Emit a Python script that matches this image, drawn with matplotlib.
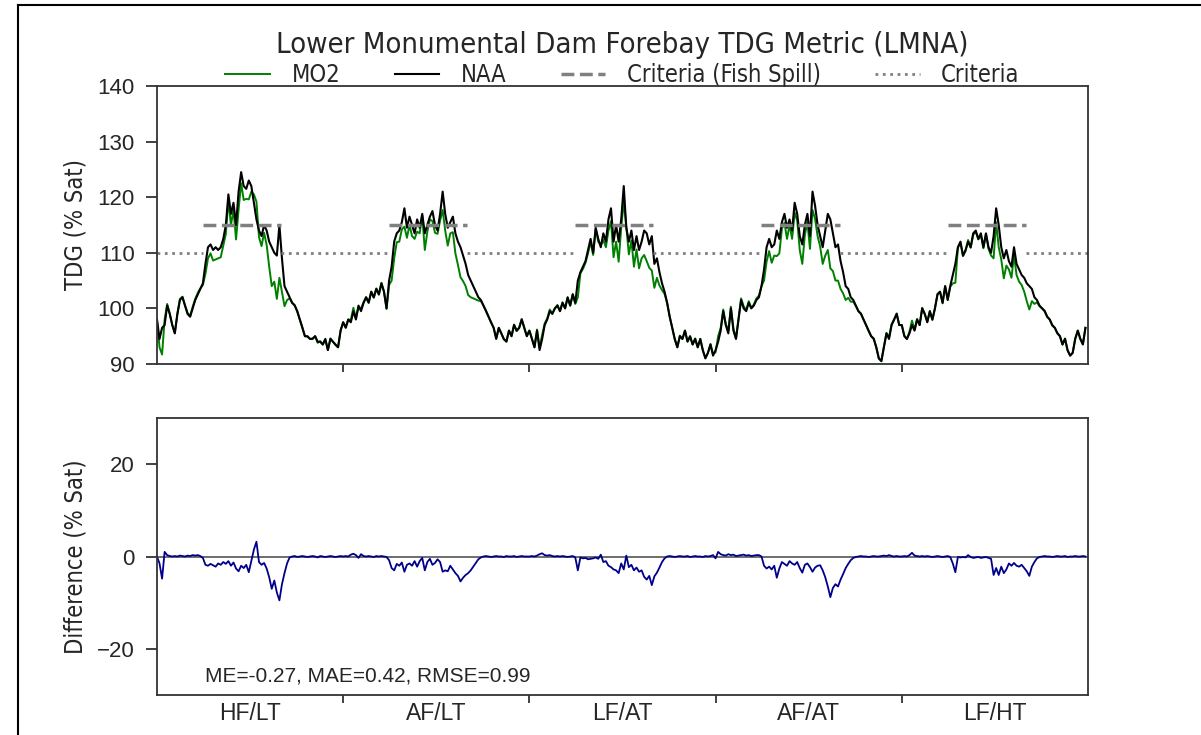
import numpy as np
import matplotlib
matplotlib.use("Agg")
import matplotlib.pyplot as plt
from matplotlib.font_manager import FontProperties
from matplotlib.lines import Line2D

# scenario labels, one per simulated year
years = ["HF/LT", "AF/LT", "LF/AT", "AF/AT", "LF/HT"]

# NAA forebay TDG (% Sat), one value every 5 days, 73 per year
naa_y1 = [98, 94.5, 96.5, 97, 100.5, 99, 97, 95.5, 99, 101.5,
          102, 100.5, 99, 98.5, 100, 101.5, 102.5, 103.5, 104.5, 108,
          111, 111.5, 110.5, 111, 110.5, 111, 112.5, 115, 120.5, 117,
          119, 115, 121, 124.5, 122, 121.5, 123, 122, 119, 116,
          114, 113, 115, 114, 112, 111, 110, 109.5, 115, 109,
          104, 103, 102, 101, 100.5, 99.5, 98, 96.5, 95, 95,
          94.5, 94.5, 95, 94, 94, 93.5, 94.5, 92.5, 94.5, 94,
          93.5, 93, 96]
naa_y2 = [97.5, 96.5, 98, 97.5, 99.5, 98, 100.5, 99.5, 101, 102,
          101, 103, 102, 103.5, 102.5, 104.5, 103, 100, 105, 107.5,
          112, 113.5, 114, 115.5, 118, 114.5, 116.5, 115, 113.5, 116,
          114.5, 117, 113.5, 115, 116.5, 117.5, 115, 114, 117, 121,
          117, 114.5, 115.5, 116.5, 113.5, 112, 111, 109.5, 108, 106,
          105, 104, 103, 102, 101.5, 100.5, 99.5, 98.5, 97.5, 96.5,
          94.5, 96.5, 95.5, 94.5, 94, 96, 95, 97, 96, 96.5,
          98, 96.5, 95]
naa_y3 = [96, 94.5, 93, 96, 92.5, 94.5, 97, 98, 99.5, 99,
          100, 100.5, 99.5, 101, 100, 102, 100.5, 102.5, 101, 105,
          106.5, 107.5, 108.5, 110.5, 112.5, 110, 114.5, 112.5, 111, 113.5,
          112, 116, 118, 112, 115, 112, 116, 122, 114.5, 112,
          114, 110.5, 113, 110.5, 112, 114, 113.5, 111.5, 113, 108,
          109, 106.5, 104.5, 103, 101, 98.5, 96.5, 94.5, 93, 95,
          94.5, 96, 94, 95, 93.5, 94.5, 93, 94.5, 92.5, 91,
          92, 93.5, 91.5]
naa_y4 = [92.5, 94, 96, 99.5, 97, 95.5, 100, 96, 94.5, 98,
          101.5, 100, 99.5, 101, 100, 100.5, 101.5, 102, 104, 107,
          111, 112.5, 111, 111.5, 114, 112.5, 115.5, 117, 114.5, 116,
          114, 119, 117, 113, 111.5, 115, 117, 113, 121, 118.5,
          115, 113, 111, 114, 117, 116, 113.5, 111, 111.5, 108.5,
          106.5, 104, 103.5, 102, 101.5, 100.5, 99.5, 99, 98, 97,
          96, 95, 94.5, 93, 91, 90.5, 93, 95.5, 94.5, 97,
          98, 99, 97]
naa_y5 = [97, 95, 94.5, 95.5, 97, 96, 98, 97, 100, 99,
          97.5, 99.5, 98, 100, 102.5, 103, 101, 104, 101.5, 104,
          106, 108, 111, 112, 109.5, 110.5, 112, 111, 113.5, 114,
          112.5, 113.5, 111, 113.5, 111, 110, 113, 118, 115, 111,
          109, 110.5, 108.5, 107.5, 111, 108, 107, 106, 105.5, 104.5,
          104, 103.5, 102, 101.5, 100.5, 100, 99.5, 98.5, 98, 97,
          96.5, 95.5, 95, 93.5, 94.5, 92.5, 91.5, 92, 94.5, 96,
          94.5, 93.5, 96.5]

# MO2 minus NAA (% Sat), same sampling
diff_y1 = [0, -1.5, -4.8, 1.0, 0.3, 0.1, 0.0, 0.1, 0.0, 0.2,
           0.1, 0.0, 0.2, 0.1, 0.3, 0.2, 0.3, 0.1, -0.3, -1.8,
           -2.0, -1.6, -1.9, -2.2, -1.5, -1.8, -1.2, -1.6, -1.0, -2.0,
           -1.3, -2.6, -3.2, -2.0, -2.5, -1.8, -3.4, -1.0, 1.5, 3.2,
           -1.2, -1.8, -1.4, -2.6, -4.5, -7.0, -5.2, -7.8, -9.5, -6.0,
           -3.6, -1.5, -0.2, 0.0, 0.1, -0.1, 0.0, 0.1, 0.0, -0.1,
           0.0, 0.1, 0.0, -0.2, 0.1, 0.0, -0.1, 0.0, 0.1, 0.0,
           -0.1, 0.0, 0.1]
diff_y2 = [0.0, 0.1, 0.0, 0.4, 0.6, 0.3, -0.3, 0.5, 0.1, 0.0,
           0.1, 0.0, -0.1, 0.1, 0.0, 0.1, 0.0, -0.1, -0.8, -2.5,
           -3.0, -1.6, -2.0, -1.3, -3.3, -1.8, -1.5, -2.0, -1.0, -2.2,
           -1.0, -0.3, -3.0, -1.2, -0.5, -1.8, -1.4, -0.6, -1.2, -3.3,
           -3.0, -3.2, -2.0, -2.8, -3.6, -4.2, -5.4, -4.6, -4.0, -3.6,
           -3.0, -2.2, -1.4, -0.6, -0.2, 0.0, 0.1, 0.0, -0.1, 0.0,
           0.1, 0.0, 0.0, -0.1, 0.1, 0.0, 0.0, 0.1, -0.1, 0.0,
           0.1, 0.0, 0.0]
diff_y3 = [0.0, 0.1, 0.0, 0.2, 0.5, 0.7, 0.3, 0.2, 0.3, 0.1,
           0.0, 0.1, 0.0, 0.1, 0.0, -0.1, 0.0, 0.1, -0.2, -3.0,
           -0.2, -0.4, -0.3, -0.6, -0.5, -0.4, -0.2, -0.5, 0.4, -1.2,
           -1.0, -2.0, -2.3, -2.8, -3.0, -3.6, -1.5, -2.8, 0.2, -2.3,
           -1.8, -3.0, -2.4, -3.3, -3.0, -4.4, -5.0, -4.2, -6.2, -4.3,
           -3.5, -2.4, -1.2, -0.4, 0.0, 0.1, 0.0, -0.1, 0.0, 0.1,
           0.0, 0.0, 0.1, -0.1, 0.0, 0.1, 0.0, 0.0, -0.1, 0.1,
           0.0, 0.1, 0.3]
diff_y4 = [-0.4, 1.0, 0.5, 0.3, 0.2, 0.5, 0.3, 0.4, 0.1, 0.2,
           0.3, 0.4, 0.2, 0.3, 0.1, 0.2, 0.3, 0.3, 0.0, -2.0,
           -2.6, -2.2, -2.8, -2.0, -4.6, -2.6, -1.2, -1.6, -2.0, -1.0,
           -1.5, -1.8, -1.2, -2.5, -3.5, -1.8, -1.5, -2.3, -3.3, -2.4,
           -2.0, -1.9, -3.0, -4.5, -6.5, -8.8, -6.8, -6.0, -6.5, -5.0,
           -3.8, -2.5, -1.6, -0.8, -0.3, -0.1, 0.0, 0.1, 0.0, 0.0,
           -0.1, 0.0, 0.1, 0.0, 0.0, 0.1, 0.2, 0.1, 0.3, 0.1,
           0.0, 0.1, 0.0]
diff_y5 = [0.0, 0.1, 0.0, 0.3, 0.8, 0.2, 0.1, 0.0, 0.1, 0.0,
           0.1, 0.0, -0.1, 0.0, 0.1, 0.0, -0.1, 0.0, 0.1, -0.1,
           -1.5, -3.4, -0.1, -0.2, -0.1, -0.2, 0.3, -0.1, -0.3, -0.2,
           -0.1, -0.3, -0.2, -0.1, -0.3, -0.5, -4.0, -2.5, -4.0, -2.2,
           -3.6, -2.8, -1.5, -2.0, -1.4, -2.0, -2.2, -1.8, -2.5, -3.2,
           -4.2, -2.2, -1.2, -0.4, -0.1, 0.0, 0.1, 0.0, 0.0, -0.1,
           0.0, 0.1, 0.0, 0.0, 0.1, -0.1, 0.0, 0.0, 0.1, 0.0,
           0.0, 0.1, 0.0]

# criteria: 115 % during fish spill (Apr 1 - Aug 31), 110 % otherwise
crit_fish = 115
crit_other = 110
spill_start = 90 / 365
spill_end = 243 / 365

stats_text = "ME=-0.27, MAE=0.42, RMSE=0.99"


def main():
    naa = np.array(naa_y1 + naa_y2 + naa_y3 + naa_y4 + naa_y5)
    diff = np.array(diff_y1 + diff_y2 + diff_y3 + diff_y4 + diff_y5)
    mo2 = naa + diff
    n_year = len(naa_y1)
    x = np.arange(len(naa)) / n_year   # time in years

    plt.rcParams["font.family"] = "Liberation Sans"
    dark = "#262626"
    # condensed face for title, legend and axis labels
    cond = dict(family="DejaVu Sans", stretch="condensed")

    fig = plt.figure(figsize=(12.01, 7.35), dpi=100)
    ax1 = fig.add_axes([0.1307, 0.5048, 0.7752, 0.3782])
    ax2 = fig.add_axes([0.1307, 0.0544, 0.7752, 0.3769])

    # top panel: TDG
    ax1.plot(x, mo2, color="green", lw=1.4, label="MO2")
    ax1.plot(x, naa, color="black", lw=1.5, label="NAA")

    n = len(years)
    starts = [k + spill_start for k in range(n)]
    ends = [k + spill_end for k in range(n)]
    ax1.hlines([crit_fish] * n, starts, ends, colors="gray", linestyles="--",
               lw=2.5, label="Criteria (Fish Spill)")
    other_lo = [0] + ends
    other_hi = starts + [n]
    ax1.hlines([crit_other] * (n + 1), other_lo, other_hi, colors="gray",
               linestyles=":", lw=2, label="Criteria")

    ax1.set_ylim(90, 140)
    ax1.set_yticks([90, 100, 110, 120, 130, 140])
    ax1.set_ylabel("TDG (% Sat)", fontsize=17, color=dark, labelpad=7, **cond)
    ax1.set_title("Lower Monumental Dam Forebay TDG Metric (LMNA)",
                  fontsize=21, color=dark, pad=24, **cond)
    ax1.legend(loc="lower center", bbox_to_anchor=(0.5, 0.962), ncol=4,
               frameon=False, prop=FontProperties(size=17, **cond),
               handlelength=1.9, columnspacing=2.3, handletextpad=0.9,
               borderaxespad=0, labelcolor=dark)

    # bottom panel: difference
    ax2.axhline(0, color="#555555", lw=1.2)
    ax2.plot(x, diff, color="darkblue", lw=1.3)
    ax2.set_ylim(-30, 30)
    ax2.set_yticks([-20, 0, 20])
    ax2.set_ylabel("Difference (% Sat)", fontsize=17, color=dark,
                   labelpad=7, **cond)
    ax2.text(0.052, 0.07, stats_text, transform=ax2.transAxes, fontsize=15,
             color=dark, ha="left", va="center")

    for ax in (ax1, ax2):
        ax.set_xlim(0, n)
        ax.set_xticks(range(1, n))
        ax.set_xticklabels([])
        ax.set_xticks([k + 0.5 for k in range(n)], minor=True)
        ax.tick_params(axis="x", which="minor", length=0, labelsize=16.5,
                       colors=dark, pad=5)
        ax.tick_params(axis="both", which="major", direction="out", length=8,
                       width=1.3, colors="#333333", labelsize=16,
                       labelcolor=dark)
        ax.tick_params(axis="y", which="major", pad=8)
        ax.tick_params(axis="x", which="major", length=6)
        for s in ax.spines.values():
            s.set_color("#333333")
            s.set_linewidth(1.3)
    ax2.set_xticklabels(years, minor=True)
    ax1.set_xticklabels([], minor=True)

    # frame round the page (only its top and left edges fall inside)
    fx, fy = 18 / 1201, 1 - 5 / 735
    fig.add_artist(Line2D([fx, fx], [0, fy], transform=fig.transFigure,
                          color="black", lw=1.5))
    fig.add_artist(Line2D([fx, 1], [fy, fy], transform=fig.transFigure,
                          color="black", lw=1.5))

    fig.savefig("out.png", dpi=100)


if __name__ == "__main__":
    main()
